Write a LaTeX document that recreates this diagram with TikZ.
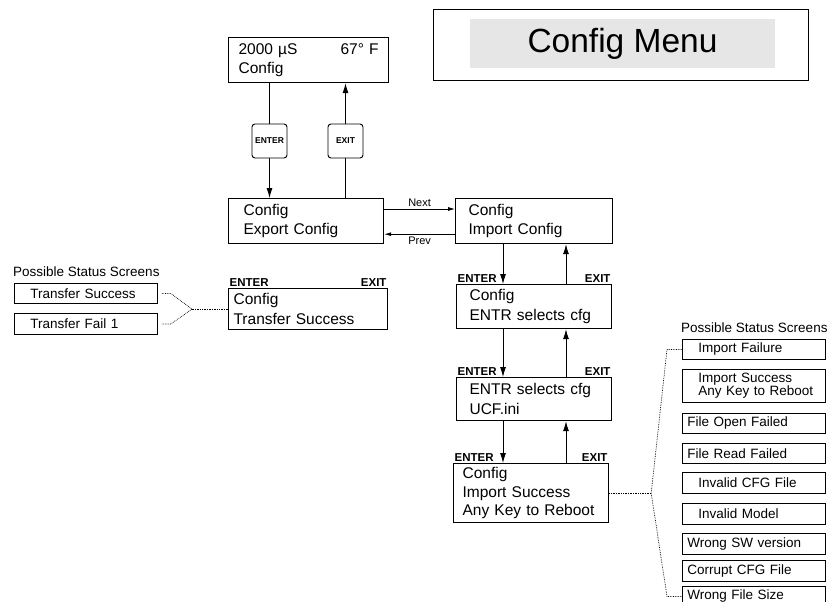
\documentclass[tikz,border=0pt]{standalone}
\usepackage{fontspec}
\setmainfont{Liberation Sans}
\usetikzlibrary{arrows.meta}
\definecolor{MenuGray}{HTML}{E6E6E6}

\begin{document}
\begin{tikzpicture}[x=1pt, y=-1pt,
    scr/.style={draw, line width=1.2pt, anchor=north west, align=left, inner ysep=0pt, font=\fontsize{15.5}{19.5}\selectfont},
    stbox/.style={draw, line width=0.8pt, anchor=north west, align=left, inner xsep=5pt, inner ysep=0pt, text width=133pt, minimum height=20pt, font=\fontsize{13.5}{13.5}\selectfont},
    stboxin/.style={stbox, inner xsep=16pt, text width=111pt},
    keylbl/.style={font=\bfseries\fontsize{11.5}{12}\selectfont, inner sep=1.5pt},
    keybtn/.style={draw, rounded corners=3pt, line width=0.9pt, fill=white, minimum width=35pt, minimum height=34pt, inner sep=0pt, font=\bfseries\fontsize{8.5}{9}\selectfont},
    arr/.style={-{Latex[length=10pt,width=6pt]}, line width=0.9pt},
    sarr/.style={-{Latex[length=7pt,width=4pt]}, line width=0.8pt},
    dotc/.style={densely dotted, line width=0.7pt},
    lbl/.style={font=\fontsize{11}{12}\selectfont, inner sep=2pt},
    hdr/.style={font=\fontsize{13.5}{14}\selectfont, anchor=west, inner sep=0pt}
  ]
  \useasboundingbox (0,0) rectangle (827,602);

  % title
  \node[draw, line width=0.9pt, minimum width=375pt, minimum height=71pt] (menubox) at (620.5,44.5) {};
  \node[fill=MenuGray, minimum width=305pt, minimum height=49pt, font=\fontsize{33.5}{36}\selectfont] (menu) at (622.5,43.5) {Config Menu};

  % screens
  \node[scr, text width=140pt, inner xsep=10pt, minimum height=45pt] (disp) at (228,37) {2000 µS\hfill 67° F\\Config};
  \node[scr, text width=125pt, inner xsep=15pt, minimum height=45pt] (export) at (228,198) {Config\\Export Config};
  \node[scr, text width=131pt, inner xsep=13pt, minimum height=45pt] (import) at (455,198) {Config\\Import Config};
  \node[scr, text width=149pt, inner xsep=5pt, minimum height=41pt] (xfer) at (228,288) {Config\\Transfer Success};
  \node[scr, text width=129pt, inner xsep=13pt, minimum height=44pt] (selcfg) at (456,284) {Config\\ENTR selects cfg};
  \node[scr, text width=129pt, inner xsep=13pt, minimum height=43pt] (ucfini) at (456,377) {ENTR selects cfg\\UCF.ini};
  \node[scr, text width=137pt, inner xsep=9pt, minimum height=59pt, font=\fontsize{15.5}{18.5}\selectfont] (success) at (453,463) {Config\\Import Success\\Any Key to Reboot};

  \foreach \b in {xfer,selcfg,ucfini,success} {
    \node[keylbl, anchor=south west] (\b-ent) at (\b.north west) {ENTER};
    \node[keylbl, anchor=south east] (\b-ext) at (\b.north east) {EXIT};
  }

  % keys
  \node[keybtn] (btnenter) at (269.5,141) {ENTER};
  \node[keybtn] (btnexit) at (345.5,141) {EXIT};
  \draw[line width=0.9pt] (btnenter) -- (btnenter |- disp.south);
  \draw[arr] (btnenter) -- (btnenter |- export.north);
  \draw[line width=0.9pt] (btnexit) -- (btnexit |- export.north);
  \draw[arr] (btnexit) -- (btnexit |- disp.south);

  \draw[sarr] ([yshift=-11pt]export.north east) -- node[lbl, above] (nextlbl) {Next} ([yshift=-11pt]import.north west);
  \draw[sarr] ([yshift=10pt]import.south west) -- node[lbl, below] (prevlbl) {Prev} ([yshift=10pt]export.south east);

  \coordinate (dn) at (503,0);
  \coordinate (up) at (566,0);
  \foreach \a/\b in {import/selcfg, selcfg/ucfini, ucfini/success} {
    \draw[arr] (dn |- \a.south) -- (dn |- \b.north);
    \draw[arr] (up |- \b.north) -- (up |- \a.south);
  }

  % status screens, left
  \node[hdr] (lhdr) at (13,272) {Possible Status Screens};
  \node[stboxin] (ts) at (14,283) {Transfer Success};
  \node[stboxin, minimum height=21pt] (tf) at (14,313) {Transfer Fail 1};
  \draw[dotc] (xfer.west) -- ++(-36,0) coordinate (lj);
  \draw[dotc] ([xshift=4pt]ts.east) -- ([xshift=13pt]ts.east) -- (lj) -- ([xshift=13pt]tf.east) -- ([xshift=4pt]tf.east);

  % status screens, right
  \node[hdr] (rhdr) at (681,328) {Possible Status Screens};
  \node[stboxin] (st1) at (682,339) {Import Failure};
  \node[stbox, minimum height=33pt] (st2) at (682,369) {\hspace*{11pt}Import Success\\\hspace*{11pt}Any Key to Reboot};
  \node[stbox] (st3) at (682,413) {File Open Failed};
  \node[stbox] (st4) at (682,443) {File Read Failed};
  \node[stboxin, minimum height=21pt] (st5) at (682,472) {Invalid CFG File};
  \node[stboxin, minimum height=21pt] (st6) at (682,503) {Invalid Model};
  \node[stbox, minimum height=21pt] (st7) at (682,533) {Wrong SW version};
  \node[stbox, minimum height=21pt] (st8) at (682,560) {Corrupt CFG File};
  \node[stbox] (st9) at (682,586) {Wrong File Size};
  \draw[dotc] (success.east) -- ++(42,0) coordinate (rj);
  \draw[dotc] (st1.west) -- ([xshift=-15pt]st1.west) -- (rj) -- ([xshift=-15pt]st9.west) -- (st9.west);
\end{tikzpicture}
\end{document}
